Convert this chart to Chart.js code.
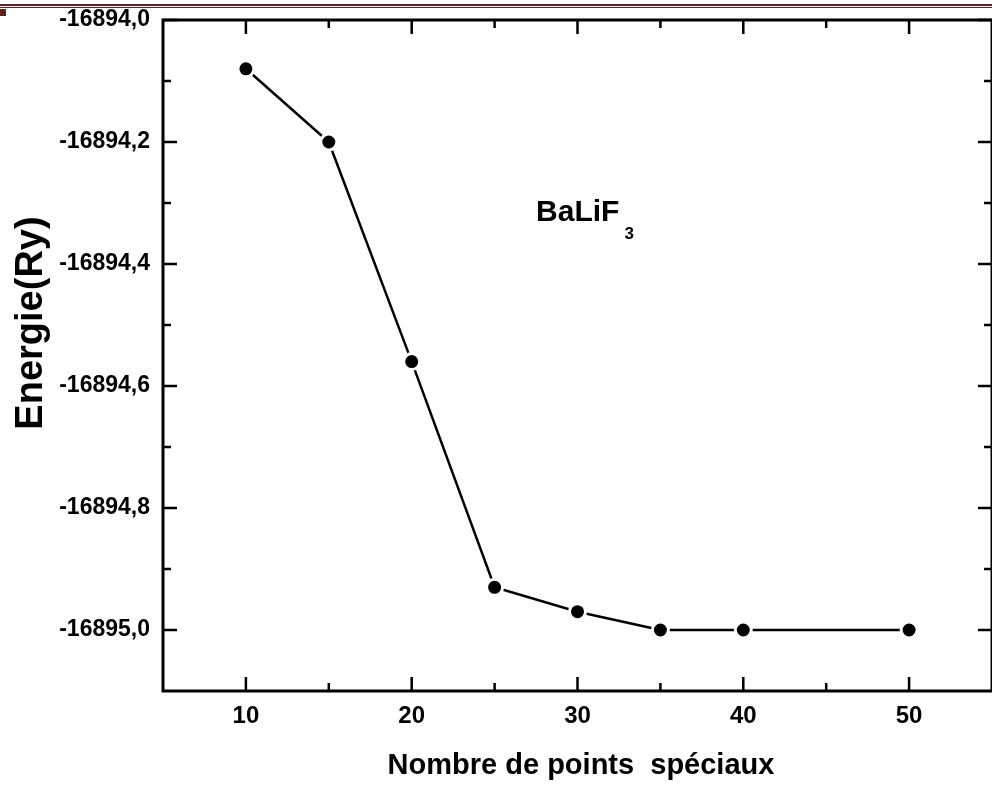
<!DOCTYPE html>
<html>
<head>
<meta charset="utf-8">
<script src="https://cdn.jsdelivr.net/npm/chart.js@4.4.0/dist/chart.umd.min.js"></script>
<style>
  body { margin: 0; overflow: hidden; background: #fff; }
  #wrap { position: relative; width: 992px; height: 789px; }
  .rule { position: absolute; left: 0; width: 992px; background: #622423; }
</style>
</head>
<body>
<div id="wrap"><canvas id="mycanvas"></canvas></div>
<div class="rule" style="top:4px;height:2px"></div>
<div class="rule" style="top:7px;height:1px"></div>
<div style="position:absolute;left:0;top:9px;width:6px;height:7px;background:#622423"></div>
<script>
// convergence of total energy vs number of special k-points
var kpoints = [10, 15, 20, 25, 30, 35, 40, 50];
var energie = [-16894.08, -16894.20, -16894.56, -16894.93, -16894.97, -16895.00, -16895.00, -16895.00];

var x_ticks = [10, 20, 30, 40, 50];
var x_minor = [15, 25, 35, 45];
var y_ticks = [-16895.0, -16894.8, -16894.6, -16894.4, -16894.2, -16894.0];
var y_minor = [-16894.9, -16894.7, -16894.5, -16894.3, -16894.1];

var x_title = "Nombre de points  spéciaux";
var y_title = "Energie(Ry)";
var compound = "BaLiF";
var compound_sub = "3";
var label_pos = { x: 27.5, y: -16894.33 };

var FONT = "'Liberation Sans', Arial, sans-serif";

var points = [];
for (var i in kpoints) {
  points.push({ x: kpoints[i], y: energie[i] });
}

// box frame with inward ticks on all four sides
var frame = {
  id: 'frame',
  beforeDatasetsDraw: function(chart) {
    var ctx = chart.ctx, a = chart.chartArea;
    var xs = chart.scales.x, ys = chart.scales.y;
    ctx.save();
    ctx.strokeStyle = '#000';
    ctx.lineWidth = 2.5;
    ctx.beginPath();
    function xt(v, len) {
      var p = xs.getPixelForValue(v);
      ctx.moveTo(p, a.bottom); ctx.lineTo(p, a.bottom - len);
      ctx.moveTo(p, a.top); ctx.lineTo(p, a.top + len);
    }
    function yt(v, len) {
      var p = ys.getPixelForValue(v);
      ctx.moveTo(a.left, p); ctx.lineTo(a.left + len, p);
      ctx.moveTo(a.right, p); ctx.lineTo(a.right - len, p);
    }
    x_ticks.forEach(function(v) { xt(v, 14); });
    x_minor.forEach(function(v) { xt(v, 8); });
    y_ticks.forEach(function(v) { yt(v, 14); });
    y_minor.forEach(function(v) { yt(v, 8); });
    ctx.stroke();
    ctx.lineWidth = 3;
    ctx.strokeRect(a.left, a.top, a.right - a.left, a.bottom - a.top);
    ctx.restore();
  },
  afterDraw: function(chart) {
    var ctx = chart.ctx;
    var xs = chart.scales.x, ys = chart.scales.y;
    ctx.save();
    ctx.fillStyle = '#000';

    ctx.font = 'bold 29px ' + FONT;
    ctx.textAlign = 'center';
    ctx.textBaseline = 'alphabetic';
    ctx.fillText(x_title, 581, 774);

    ctx.translate(42, 323);
    ctx.rotate(-Math.PI / 2);
    ctx.font = 'bold 38px ' + FONT;
    ctx.fillText(y_title, 0, 0);
    ctx.setTransform(1, 0, 0, 1, 0, 0);

    var lx = xs.getPixelForValue(label_pos.x);
    var ly = ys.getPixelForValue(label_pos.y);
    ctx.textAlign = 'left';
    ctx.font = 'bold 30px ' + FONT;
    ctx.fillText(compound, lx, ly);
    var w = ctx.measureText(compound).width;
    ctx.font = 'bold 17px ' + FONT;
    ctx.fillText(compound_sub, lx + w + 5, ly + 18);
    ctx.restore();
  }
};

var ctx = document.getElementById('mycanvas');

var LineGraph = new Chart(ctx, {
  type: 'line',
  data: {
    datasets: [{
      label: 'Energie',
      data: points,
      fill: false,
      tension: 0,
      borderColor: '#000',
      borderWidth: 2.5,
      pointRadius: 8,
      pointBackgroundColor: '#000',
      pointBorderColor: '#fff',
      pointBorderWidth: 3
    }]
  },
  options: {
    responsive: true,
    maintainAspectRatio: false,
    animation: false,
    layout: { autoPadding: false, padding: { left: 0, top: 20, right: -2, bottom: 0 } },
    plugins: { legend: { display: false }, tooltip: { enabled: false } },
    scales: {
      x: {
        type: 'linear',
        min: 5,
        max: 55,
        grid: { display: false, drawTicks: false },
        border: { display: false },
        afterBuildTicks: function(s) { s.ticks = x_ticks.map(function(v) { return { value: v }; }); },
        afterFit: function(s) { s.height = 98; s.paddingLeft = 0; s.paddingRight = 0; },
        ticks: {
          padding: 11,
          color: '#000',
          font: { family: FONT, size: 24, weight: 'bold' },
          callback: function(v) { return String(v); }
        }
      },
      y: {
        type: 'linear',
        min: -16895.1,
        max: -16894.0,
        grid: { display: false, drawTicks: false },
        border: { display: false },
        afterBuildTicks: function(s) { s.ticks = y_ticks.map(function(v) { return { value: v }; }); },
        afterFit: function(s) { s.width = 163; s.paddingTop = 0; s.paddingBottom = 0; },
        ticks: {
          padding: 13,
          color: '#000',
          font: { family: FONT, size: 23, weight: 'bold' },
          callback: function(v) { return v.toFixed(1).replace('.', ','); }
        }
      }
    }
  },
  plugins: [frame]
});
</script>
</body>
</html>
